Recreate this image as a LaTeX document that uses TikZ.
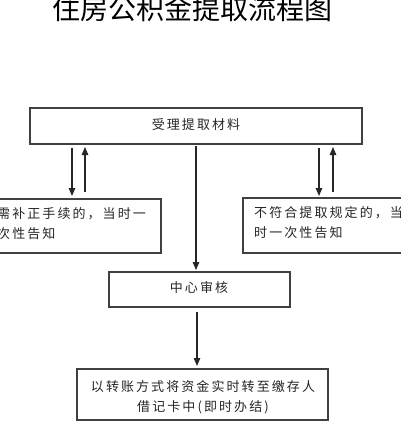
\documentclass[tikz,border=0pt]{standalone}
\usepackage{fontspec}
\newfontfamily\cjk{Noto Sans CJK SC}
\newfontfamily\cjksp[LetterSpace=16]{Noto Sans CJK SC}
\usetikzlibrary{arrows.meta}
\tikzset{
  boxstyle/.style={draw=black!75, line width=1.1pt},
  boxtext/.style={font=\cjksp\fontsize{13}{15}\selectfont, inner sep=0pt, text=black!85},
  arr/.style={draw=black!85, line width=1.2pt, -{Triangle[length=8pt,width=6.5pt]}},
}
\begin{document}
\begin{tikzpicture}[x=1pt,y=-1pt]
\useasboundingbox[fill=white] (0,0) rectangle (400,425);
% title
\node[font=\cjk\fontsize{28}{30}\selectfont, inner sep=0pt] (title) at (192,9) {住房公积金提取流程图};
% boxes
\draw[boxstyle] (30,108) rectangle (362,144);
\node[boxtext] (accept) at (196,125) {受理提取材料};
\draw[boxstyle] (-5,199) rectangle (161,253);
\node[boxtext, anchor=west] (left1) at (-3,214) {需补正手续的，当时一};
\node[boxtext, anchor=west] (left2) at (-3,234) {次性告知};
\draw[boxstyle] (243,198) rectangle (410,253);
\node[boxtext, anchor=west] (right1) at (254,213) {不符合提取规定的，当};
\node[boxtext, anchor=west] (right2) at (254,233) {时一次性告知};
\draw[boxstyle] (109,272) rectangle (290,307);
\node[boxtext] (center) at (199,288) {中心审核};
\draw[boxstyle] (77,369) rectangle (328,420);
\node[boxtext] (bot1) at (203,387) {以转账方式将资金实时转至缴存人};
\node[boxtext] (bot2) at (203,407) {借记卡中(即时办结)};
% arrow coordinates
\coordinate (a1s) at (72,148); \coordinate (a1e) at (72,196);
\coordinate (a2s) at (85,192); \coordinate (a2e) at (85,147);
\coordinate (a3s) at (319,148); \coordinate (a3e) at (319,196);
\coordinate (a4s) at (333,192); \coordinate (a4e) at (333,147);
\coordinate (a5s) at (196,146); \coordinate (a5e) at (196,270);
\coordinate (a6s) at (197,312); \coordinate (a6e) at (197,366);
\draw[arr] (a1s) -- (a1e);
\draw[arr] (a2s) -- (a2e);
\draw[arr] (a3s) -- (a3e);
\draw[arr] (a4s) -- (a4e);
\draw[arr] (a5s) -- (a5e);
\draw[arr] (a6s) -- (a6e);
\end{tikzpicture}
\end{document}
